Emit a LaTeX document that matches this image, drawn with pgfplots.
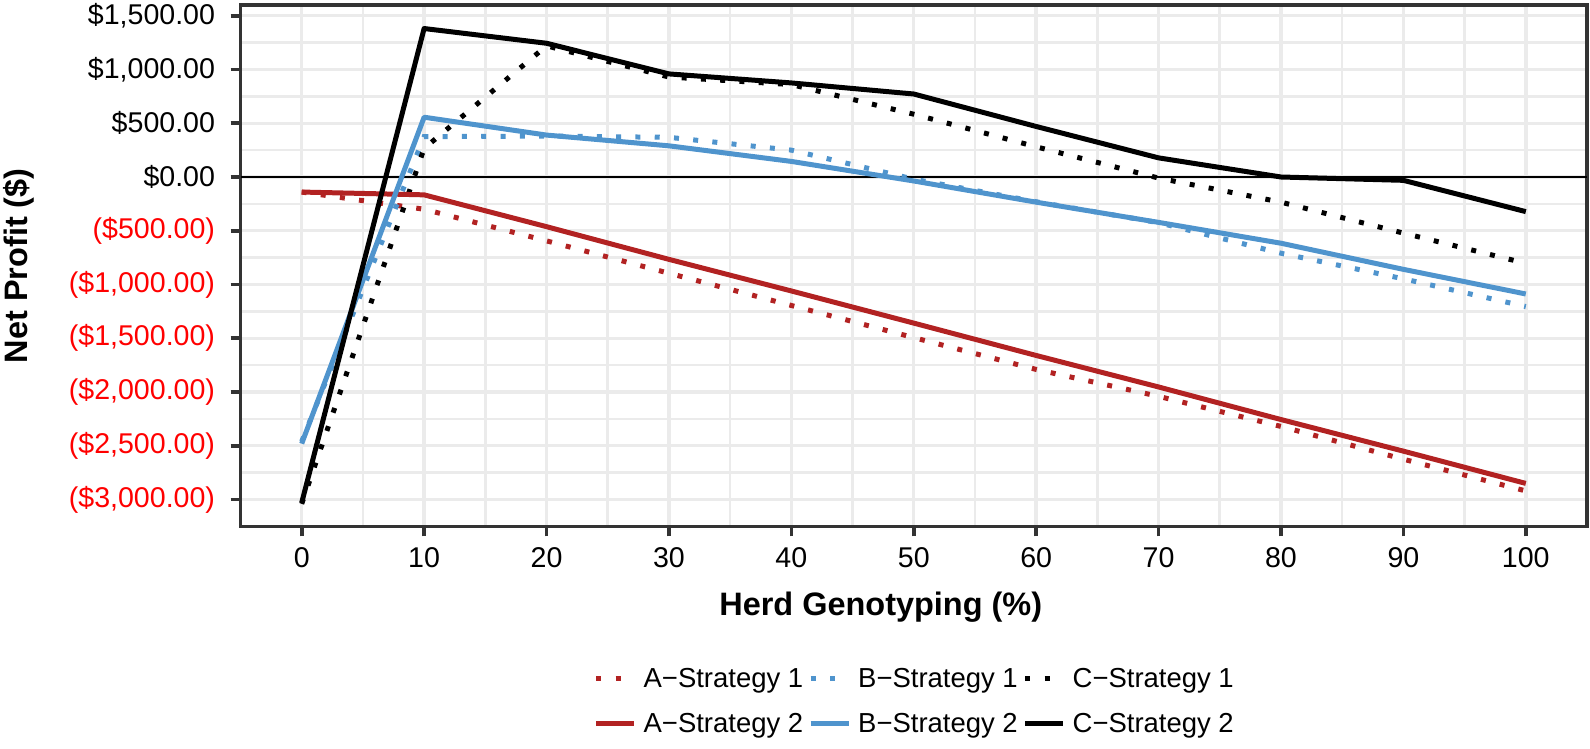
\documentclass[border=0pt]{standalone}
\usepackage{pgfplots}
\pgfplotsset{compat=1.18}
\usepackage{fontspec}
\setmainfont{Liberation Sans}
\definecolor{cA}{HTML}{B22222}
\definecolor{cB}{HTML}{4F94CD}
\definecolor{gridc}{HTML}{EBEBEB}
\definecolor{framec}{HTML}{333333}
\newcommand{\fs}{\fontsize{28.6pt}{32pt}\selectfont}
\newcommand{\fl}{\fontsize{27.5pt}{31pt}\selectfont}
\newcommand{\ft}{\fontsize{32.5pt}{37pt}\selectfont}
\begin{document}
\begin{tikzpicture}
\begin{axis}[
  at={(0,0)}, anchor=south west,
  width=1348pt, height=522pt, scale only axis,
  xmin=-5, xmax=105, ymin=-3250, ymax=1600,
  xtick={0,10,...,100}, minor xtick={5,15,...,95},
  ytick={-3000,-2500,...,1500}, minor ytick={-2750,-2250,...,1250},
  grid=both,
  major grid style={gridc, line width=3.4pt},
  minor grid style={gridc, line width=2.6pt},
  axis line style={framec, line width=3.4pt},
  tick style={framec, line width=3.6pt},
  major tick length=10pt, minor tick length=0pt,
  tick align=outside, tick pos=left,
  xticklabels={0,10,20,30,40,50,60,70,80,90,100},
  yticklabels={{\textcolor{red}{(\$3,000.00)}},{\textcolor{red}{(\$2,500.00)}},{\textcolor{red}{(\$2,000.00)}},{\textcolor{red}{(\$1,500.00)}},{\textcolor{red}{(\$1,000.00)}},{\textcolor{red}{(\$500.00)}},{\$0.00},{\$500.00},{\$1,000.00},{\$1,500.00}},
  xticklabel style={font=\fs, text=black, yshift=-8pt},
  yticklabel style={font=\fs, text=black, xshift=-12pt},
  xlabel={\textbf{Herd Genotyping (\%)}},
  ylabel={\textbf{Net Profit (\$)}},
  every axis x label/.style={at={(axis description cs:0.4755,-0.1542)}, anchor=center, font=\ft},
  every axis y label/.style={at={(axis description cs:-0.1647,0.5)}, rotate=90, anchor=center, font=\ft},
  legend columns=3,
  legend cell align=left,
  legend style={at={(axis description cs:0.5,-0.3352)}, anchor=center, draw=none, fill=none, font=\fl,
    nodes={inner sep=0pt},
    /tikz/every even column/.append style={column sep=5pt},
    /tikz/every odd column/.append style={column sep=7pt},
    row sep=24.5pt},
  legend image code/.code={\draw[#1] (0pt,0pt) -- (38pt,0pt);},
  dotted line/.style={line width=5pt, dash pattern=on 5pt off 14.3pt},
  solid line/.style={line width=5pt, line join=round},
]
\addplot[black, line width=1.8pt, forget plot] coordinates {(-5,0) (105,0)};
\addplot[cA, dotted line] coordinates {(0,-140) (10,-300) (20,-594) (30,-895) (40,-1195) (50,-1494) (60,-1790) (70,-2040) (80,-2320) (90,-2625) (100,-2920)};
\addlegendentry{A−Strategy 1}
\addplot[cB, dotted line] coordinates {(0,-2460) (10,375) (20,381) (30,369) (40,250) (50,-20) (60,-230) (70,-425) (80,-709) (90,-947) (100,-1205)};
\addlegendentry{B−Strategy 1}
\addplot[black, dotted line] coordinates {(0,-3040) (10,266) (20,1220) (30,930) (40,860) (50,584) (60,281) (70,-10) (80,-234) (90,-522) (100,-803)};
\addlegendentry{C−Strategy 1}
\addplot[cA, solid line] coordinates {(0,-140) (10,-166) (20,-462) (30,-766) (40,-1060) (50,-1359) (60,-1660) (70,-1953) (80,-2256) (90,-2550) (100,-2850)};
\addlegendentry{A−Strategy 2}
\addplot[cB, solid line] coordinates {(0,-2480) (10,556) (20,390) (30,290) (40,145) (50,-37) (60,-234) (70,-422) (80,-616) (90,-859) (100,-1088)};
\addlegendentry{B−Strategy 2}
\addplot[black, solid line] coordinates {(0,-3030) (10,1381) (20,1244) (30,959) (40,875) (50,772) (60,470) (70,178) (80,0) (90,-31) (100,-322)};
\addlegendentry{C−Strategy 2}
\end{axis}
\path (-239pt,-222pt) rectangle (1351pt,527pt);
\end{tikzpicture}
\end{document}
